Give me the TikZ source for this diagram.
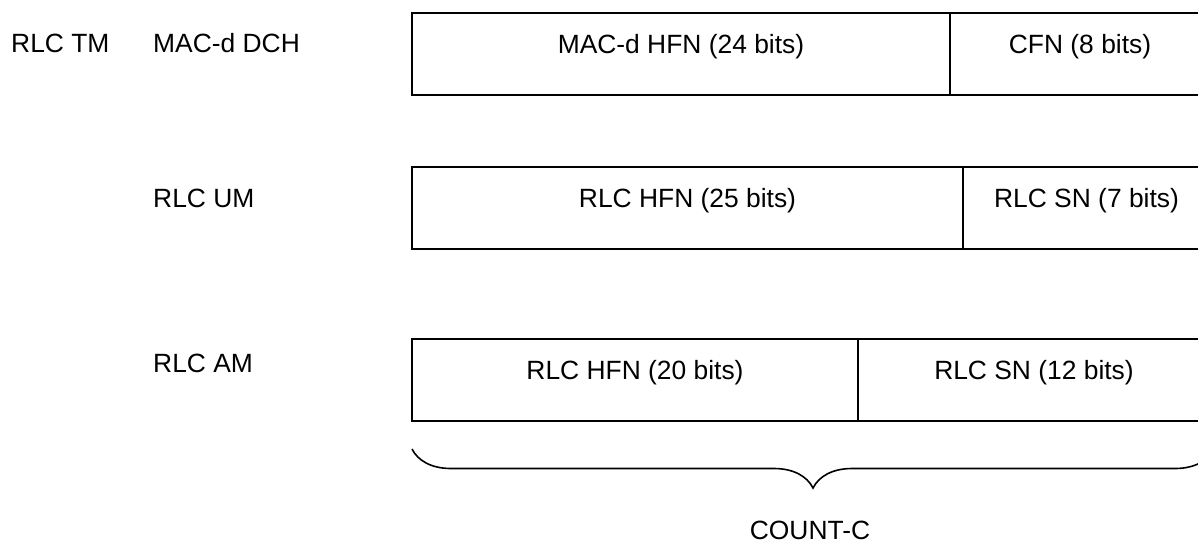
\documentclass[tikz,border=0pt]{standalone}
\usepackage{fontspec}
\setmainfont{Liberation Sans}
\usetikzlibrary{decorations.pathreplacing}

\begin{document}
\begin{tikzpicture}[x=1pt,y=-1pt,
   campo/.style={draw,line width=1.8pt,minimum height=82pt,inner sep=0pt,outer sep=0pt,
      anchor=north west,text height=0.75em,text depth=0.83em,font=\fontsize{26.4}{30}\selectfont},
   modo/.style={anchor=base west,inner sep=0pt,font=\fontsize{26.4}{30}\selectfont},
   llave/.style={decorate,decoration={brace,mirror,amplitude=39pt},line width=1.6pt}]

  \useasboundingbox (0,0) rectangle (1198,547);

  % --- RLC TM / MAC-d DCH ---
  \node[modo] (tm)  at (11,52.5)  {RLC TM};
  \node[modo] (dch) at (153,52.5) {MAC-d DCH};
  \node[campo,minimum width=538pt] (f1a) at (412,13) {MAC-d HFN (24 bits)};
  \node[campo,minimum width=260pt] (f1b) at (f1a.north east) {CFN (8 bits)};

  % --- RLC UM ---
  \node[modo] (um) at (153,207) {RLC UM};
  \node[campo,minimum width=551pt] (f2a) at (412,167) {RLC HFN (25 bits)};
  \node[campo,minimum width=247pt] (f2b) at (f2a.north east) {RLC SN (7 bits)};

  % --- RLC AM ---
  \node[modo] (am) at (153,372) {RLC AM};
  \node[campo,minimum width=446pt] (f3a) at (412,339) {RLC HFN (20 bits)};
  \node[campo,minimum width=352pt] (f3b) at (f3a.north east) {RLC SN (12 bits)};

  % --- COUNT-C ---
  \coordinate (bizq) at ([yshift=-28pt]f3a.south west);
  \coordinate (bder) at ([yshift=-28pt,xshift=4pt]f3b.south east);
  \draw[llave] (bizq) -- (bder);
  \node[anchor=base,inner sep=0pt,font=\fontsize{26.4}{30}\selectfont] (count) at (810,539) {COUNT-C};
\end{tikzpicture}
\end{document}
